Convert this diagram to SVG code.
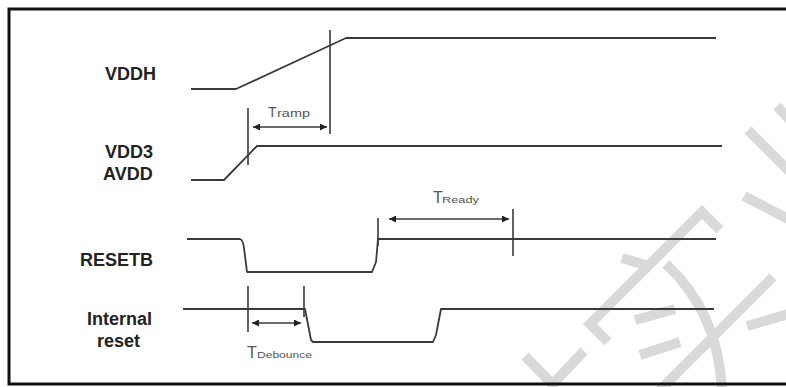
<svg xmlns="http://www.w3.org/2000/svg" width="786" height="387" viewBox="0 0 786 387">
<style>
.wm{fill:none;stroke:#d9d9d9;stroke-width:10;stroke-linecap:butt;stroke-linejoin:miter}
.sig{fill:none;stroke:#3a3a3a;stroke-width:1.8;stroke-linejoin:round}
.mk{fill:none;stroke:#3a3a3a;stroke-width:1.6}
.lbl{font-family:"Liberation Sans",Arial,sans-serif;font-weight:bold;font-size:18px;fill:#222}
.tl{font-family:"Liberation Sans",Arial,sans-serif;fill:#555}
</style>
<defs>
<marker id="ah" viewBox="0 0 10 10" refX="10" refY="5" markerWidth="9" markerHeight="7" markerUnits="userSpaceOnUse" orient="auto-start-reverse">
<path d="M0,0 L10,5 L0,10 z" fill="#222"/>
</marker>
</defs>
<rect width="786" height="387" fill="#fff"/>
<g id="watermark">
<path class="wm" d="M777,106 L792,122"/>
<path class="wm" d="M748,130 L792,174"/>
<path class="wm" d="M744,196 L792,221"/>
<path class="wm" d="M720,230 L702,212 L590,324 L608,342"/>
<path class="wm" d="M622,258 L648,266"/>
<path class="wm" d="M666,264 Q718,312 722,390"/>
<path class="wm" d="M635,320 L675,309"/>
<path class="wm" d="M640,355 L680,342"/>
<path class="wm" d="M773,277 L660,390"/>
<path class="wm" d="M747,326 L792,313"/>
<path class="wm" d="M525,356 L556,388"/>
<path class="wm" d="M584,351 L549,388"/>
</g>
<rect id="frame" x="9" y="9" width="800" height="375" fill="none" stroke="#111" stroke-width="3"/>
<g id="labels">
<text class="lbl" x="105" y="80">VDDH</text>
<text class="lbl" x="105" y="158">VDD3</text>
<text class="lbl" x="103" y="180">AVDD</text>
<text class="lbl" x="80" y="266">RESETB</text>
<text class="lbl" x="87" y="325">Internal</text>
<text class="lbl" x="97" y="347">reset</text>
</g>
<g id="vddh">
<path class="sig" d="M191,89 L236,89 L346,38 L716,38"/>
</g>
<g id="vdd3">
<path class="sig" d="M191,180 L224,180 L257,146 L722,146"/>
</g>
<g id="resetb">
<path class="sig" d="M187,239 L240,239 Q243,240 244,248 L247,272 L372,272 L376,262 L378,239 L716,239"/>
</g>
<g id="internal-reset">
<path class="sig" d="M183,309 L305,309 L311,340 L313,342 L433,342 L436,335 L441,309 L714,309"/>
</g>
<g id="connectors">
<path class="mk" d="M330,30 L330,134"/>
<path class="mk" d="M248,108 L248,165"/>
<path class="mk" d="M378,218 L378,246"/>
<path class="mk" d="M513,209 L513,256"/>
<path class="mk" d="M248,286 L248,332"/>
<path class="mk" d="M304,286 L304,317"/>
<path class="mk" d="M253,127 L327,127" marker-start="url(#ah)" marker-end="url(#ah)"/>
<path class="mk" d="M389,219 L509,219" marker-start="url(#ah)" marker-end="url(#ah)"/>
<path class="mk" d="M252,323 L301,323" marker-start="url(#ah)" marker-end="url(#ah)"/>
</g>
<g id="timing-labels">
<text class="tl" x="268" y="117" font-size="14">T</text>
<text class="tl" x="277" y="117" font-size="11" textLength="33" lengthAdjust="spacingAndGlyphs">ramp</text>
<text class="tl" x="433" y="203" font-size="16">T</text>
<text class="tl" x="442" y="203" font-size="9" textLength="37" lengthAdjust="spacingAndGlyphs">Ready</text>
<text class="tl" x="247" y="358" font-size="16">T</text>
<text class="tl" x="257" y="358" font-size="9" textLength="55" lengthAdjust="spacingAndGlyphs">Debounce</text>
</g>
</svg>
